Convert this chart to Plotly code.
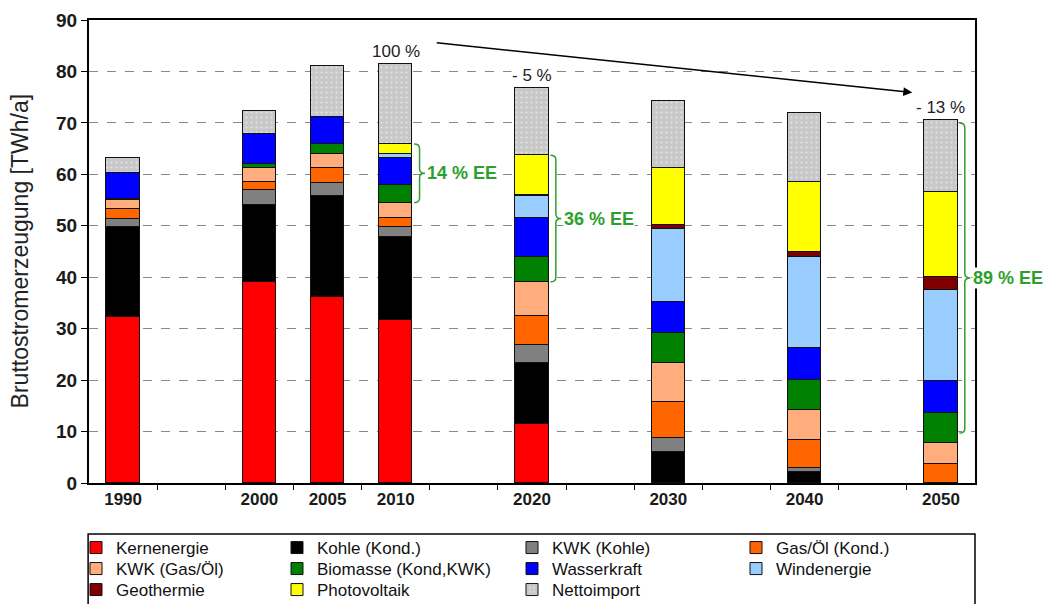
import plotly.graph_objects as go

# Jahre (Kategorien) und Erzeugung je Technologie in TWh/a
years = [1990, 2000, 2005, 2010, 2020, 2030, 2040, 2050]
year_labels = ['1990', '2000', '2005', '2010', '2020', '2030', '2040', '2050']

kernenergie = [32.3, 39.1, 36.2, 31.6, 11.5, 0.0, 0.0, 0.0]
kohle_kond = [17.4, 14.9, 19.6, 16.2, 11.9, 6.1, 2.2, 0.0]
kwk_kohle = [1.6, 3.0, 2.6, 2.0, 3.4, 2.6, 0.8, 0.0]
gas_oel_kond = [1.9, 1.6, 2.8, 1.7, 5.7, 7.1, 5.4, 3.7]
kwk_gas_oel = [1.8, 2.6, 2.8, 3.0, 6.6, 7.6, 5.8, 4.0]
biomasse = [0.2, 0.9, 1.9, 3.4, 4.9, 5.7, 5.8, 6.0]
wasserkraft = [5.0, 5.7, 5.3, 5.2, 7.5, 6.0, 6.2, 6.2]
windenergie = [0.0, 0.0, 0.0, 0.8, 4.3, 14.2, 17.8, 17.6]
geothermie = [0.0, 0.0, 0.0, 0.0, 0.1, 0.9, 1.0, 2.5]
photovoltaik = [0.0, 0.0, 0.0, 2.0, 7.8, 11.0, 13.6, 16.5]
nettoimport = [2.9, 4.6, 9.9, 15.6, 13.1, 13.1, 13.3, 14.1]

# Veränderung gegenüber 2010 und EE-Anteile
change_labels = {2010: '100 %', 2020: '- 5 %', 2050: '- 13 %'}
ee_labels = {2010: '14 % EE', 2020: '36 % EE', 2050: '89 % EE'}

series = [
    ('Kernenergie', kernenergie, '#FF0000'),
    ('Kohle (Kond.)', kohle_kond, '#000000'),
    ('KWK (Kohle)', kwk_kohle, '#808080'),
    ('Gas/Öl (Kond.)', gas_oel_kond, '#FF6600'),
    ('KWK (Gas/Öl)', kwk_gas_oel, '#FFAD7D'),
    ('Biomasse (Kond,KWK)', biomasse, '#008000'),
    ('Wasserkraft', wasserkraft, '#0000FF'),
    ('Windenergie', windenergie, '#99CCFF'),
    ('Geothermie', geothermie, '#800000'),
    ('Photovoltaik', photovoltaik, '#FFFF00'),
    ('Nettoimport', nettoimport, '#C8C8C8'),
]

FONT = 'Liberation Sans'
# die Seite hat 8px Rand -> Figur etwas kleiner
W, H = 1051, 596
# Legende: 4 Spalten, 3 Zeilen (Pixel in der Figur)
leg_col_x = [68, 269, 504, 728]
leg_row_y = [540, 561, 582]

fig = go.Figure()
legends = {}
for k, (name, vals, col) in enumerate(series):
    marker = dict(color=col, line=dict(color='#111111', width=1))
    if name == 'Nettoimport':
        marker['pattern'] = dict(shape='.', fgcolor='#FFFFFF', bgcolor=col,
                                 size=5, solidity=0.15)
    lg = 'legend' if k == 0 else f'legend{k + 1}'
    fig.add_trace(go.Bar(x=years, y=vals, name=name, width=2.45, marker=marker,
                         legend=lg))
    legends[lg] = dict(
        xref='container', yref='container',
        x=leg_col_x[k % 4] / W, y=1 - leg_row_y[k // 4] / H,
        xanchor='left', yanchor='middle',
        bgcolor='rgba(0,0,0,0)', borderwidth=0, itemwidth=30,
        font=dict(family=FONT, size=17, color='#111111'),
    )

totals = [sum(s[1][i] for s in series) for i in range(len(years))]
names = [s[0] for s in series]


def stack_top(i, upto):
    return sum(series[k][1][i] for k in range(upto))


def brace_path(x0, y0, y1, w):
    ym = (y0 + y1) / 2
    xm = x0 + w / 2
    d = 0.9
    return (f'M {x0},{y1} Q {xm},{y1} {xm},{y1 - d} L {xm},{ym + d} '
            f'Q {xm},{ym} {x0 + w},{ym} Q {xm},{ym} {xm},{ym - d} '
            f'L {xm},{y0 + d} Q {xm},{y0} {x0},{y0}')


green = '#2CA02C'
# Klammern: Biomasse bis PV (2010, 2020) bzw. bis Import (2050)
i_bio = names.index('Biomasse (Kond,KWK)')
brace_specs = {2010: names.index('Photovoltaik') + 1,
               2020: names.index('Photovoltaik') + 1,
               2050: len(series)}
for yr, top_idx in brace_specs.items():
    i = years.index(yr)
    y0 = stack_top(i, i_bio)
    y1 = stack_top(i, top_idx)
    if yr == 2050:
        y0, y1 = y0 + 2, y1 - 0.6
    x0 = yr + 1.35
    fig.add_shape(type='path', path=brace_path(x0, y0, y1, 0.8),
                  xref='x', yref='y', line=dict(color=green, width=1.5))
    fig.add_annotation(x=x0 + 0.9, y=(y0 + y1) / 2, text=ee_labels[yr],
                       xanchor='left', yanchor='middle', showarrow=False,
                       bgcolor='white', borderpad=0,
                       font=dict(family=FONT, size=18, color=green, weight='bold'))

for yr, txt in change_labels.items():
    i = years.index(yr)
    fig.add_annotation(x=yr, y=totals[i], text=txt, showarrow=False,
                       yanchor='bottom', yshift=2, bgcolor='white', borderpad=0,
                       font=dict(family=FONT, size=17, color='#222222'))

# Pfeil von 2010 nach 2050
fig.add_annotation(x=2047.9, y=75.9, ax=2012.9, ay=85.6, xref='x', yref='y',
                   axref='x', ayref='y', text='', showarrow=True,
                   arrowhead=2, arrowsize=1.2, arrowwidth=1.5, arrowcolor='#000000')

# y-Achsentitel
fig.add_annotation(x=-0.078, y=0.5, xref='paper', yref='paper',
                   text='Bruttostromerzeugung [TWh/a]', textangle=-90,
                   showarrow=False, xanchor='center', yanchor='middle',
                   font=dict(family=FONT, size=23, color='#222222'))

# Rahmen der Legende (unten abgeschnitten wie im Original)
fig.add_shape(type='rect', xref='paper', yref='paper',
              x0=-0.001, x1=1.0, y0=-0.110, y1=-0.4,
              line=dict(color='#000000', width=1.5))

fig.update_layout(
    width=W, height=H,
    barmode='stack',
    bargap=0,
    plot_bgcolor='white', paper_bgcolor='white',
    margin=dict(l=81, r=84, t=12, b=121, autoexpand=False),
    font=dict(family=FONT, size=15, color='#222222'),
    showlegend=True,
    xaxis=dict(
        range=[1987.5, 2052.5], tickvals=years, ticktext=year_labels,
        ticks='', showgrid=False, zeroline=False,
        showline=True, linecolor='#000000', linewidth=2, mirror=True,
        tickfont=dict(family=FONT, size=17, color='#1a1a1a', weight='bold'),
        minor=dict(tickvals=[1992.5 + 5 * k for k in range(12)],
                   ticks='outside', ticklen=5, tickcolor='#000000', tickwidth=1),
    ),
    yaxis=dict(
        range=[0, 90], dtick=10, ticks='outside', ticklen=6, tickcolor='#000000',
        showgrid=True, gridcolor='#888888', griddash='dash', gridwidth=1,
        zeroline=False, showline=True, linecolor='#000000', linewidth=2, mirror=True,
        tickfont=dict(family=FONT, size=19, color='#1a1a1a', weight='bold'),
    ),
    **legends,
)

fig.write_html('out.html')
